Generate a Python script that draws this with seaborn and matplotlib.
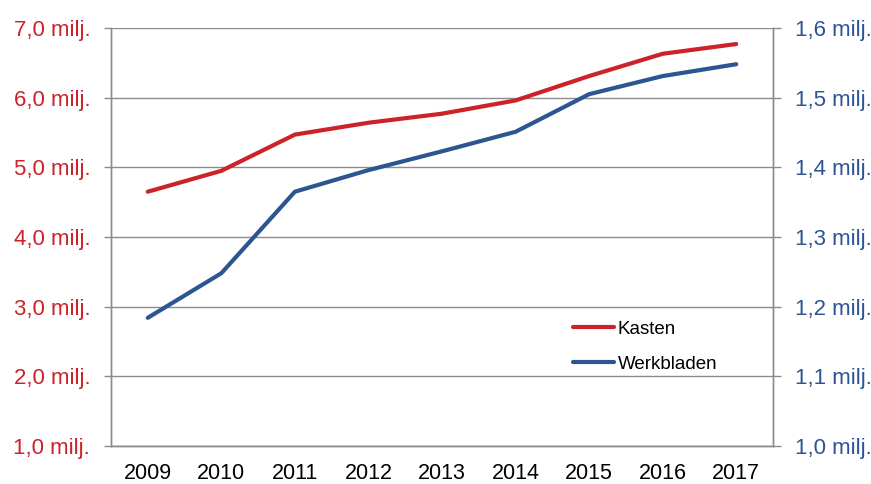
import matplotlib
matplotlib.use("Agg")
import matplotlib.pyplot as plt
import seaborn as sns
import numpy as np
import pandas as pd
from matplotlib.lines import Line2D

years = ["2009", "2010", "2011", "2012", "2013", "2014", "2015", "2016", "2017"]
kasten = [4.65, 4.95, 5.47, 5.64, 5.77, 5.96, 6.31, 6.63, 6.77]
werkbladen = [1.184, 1.248, 1.365, 1.396, 1.423, 1.451, 1.505, 1.531, 1.548]
left_ticks = [1.0, 2.0, 3.0, 4.0, 5.0, 6.0, 7.0]
right_ticks = [1.0, 1.1, 1.2, 1.3, 1.4, 1.5, 1.6]

RED = "#CC2229"
BLUE = "#2C5592"
GREY = "#8C8C8C"

sns.set_theme(style="white")
plt.rcParams["font.family"] = ["Liberation Sans", "DejaVu Sans"]

df = pd.DataFrame({"jaar": years, "Kasten": kasten, "Werkbladen": werkbladen})

fig = plt.figure(figsize=(8.71, 4.84), dpi=100)
ax = fig.add_axes([111/871, 1-446/484, (773-111)/871, (446-28)/484])
ax2 = ax.twinx()

sns.lineplot(data=df, x="jaar", y="Kasten", ax=ax, color=RED, linewidth=3,
             solid_capstyle="round", sort=False)
sns.lineplot(data=df, x="jaar", y="Werkbladen", ax=ax2, color=BLUE, linewidth=3,
             solid_capstyle="round", sort=False)

ax.set_xlim(-0.5, len(years) - 0.5)
ax.set_ylim(1.0, 7.0)
ax2.set_ylim(1.0, 1.6)

ax.set_yticks(left_ticks)
ax.set_yticklabels([f"{v:.1f}".replace(".", ",") + " milj." for v in left_ticks],
                   color=RED, fontsize=16)
ax2.set_yticks(right_ticks)
ax2.set_yticklabels([f"{v:.1f}".replace(".", ",") + " milj." for v in right_ticks],
                    color=BLUE, fontsize=16)

ax.set_xticks(range(len(years)))
ax.set_xticklabels(years, fontsize=15.5, color="black")
ax.set_xticks(np.arange(-0.5, len(years), 1.0), minor=True)
ax.tick_params(axis="x", which="major", length=0, pad=12)
ax.tick_params(axis="x", which="minor", length=6, width=1, color=GREY, direction="out")
ax.tick_params(axis="y", which="major", length=5, width=1, color=GREY, direction="out", pad=10)
ax2.tick_params(axis="y", which="major", length=6, width=1, color=GREY, direction="out", pad=10)

ax.set_xlabel("")
ax.set_ylabel("")
ax2.set_ylabel("")

ax.grid(axis="y", color=GREY, linewidth=1)
ax.set_axisbelow(True)

for a in (ax, ax2):
    a.spines["top"].set_visible(False)
    for s in ("left", "right", "bottom"):
        a.spines[s].set_color(GREY)
        a.spines[s].set_linewidth(1)

handles = [Line2D([0], [0], color=RED, linewidth=3, solid_capstyle="round"),
           Line2D([0], [0], color=BLUE, linewidth=3, solid_capstyle="round")]
leg = ax2.legend(handles, ["Kasten", "Werkbladen"], loc="upper left",
                 bbox_to_anchor=(565/871, 1-313/484), bbox_transform=fig.transFigure,
                 frameon=False, fontsize=13.5, handlelength=2.2, handletextpad=0.2,
                 labelspacing=0.95, borderaxespad=0)
for t in leg.get_texts():
    t.set_color("black")

fig.savefig("out.png", dpi=100)
